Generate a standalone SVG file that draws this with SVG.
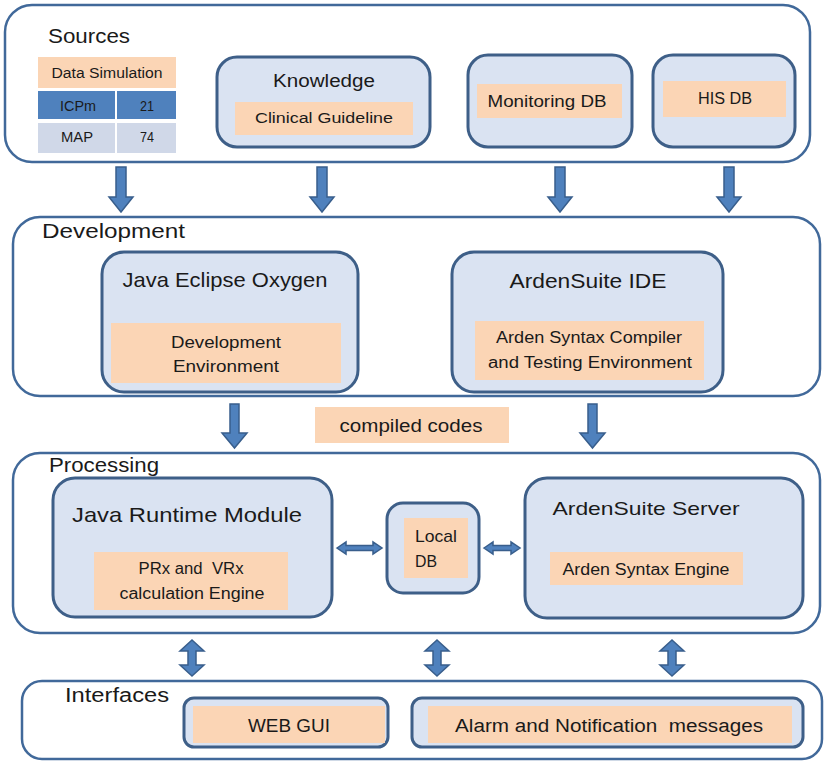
<svg xmlns="http://www.w3.org/2000/svg" width="825" height="762" viewBox="0 0 825 762">
<style>
.outer{fill:#fff;stroke:#41699A;stroke-width:2.5}
.node{fill:#DAE3F2;stroke:#3E5F88;stroke-width:3}
.peach{fill:#FBD5B5}
.t{font-family:"Liberation Sans",Arial,sans-serif;fill:#1a1a1a;text-anchor:middle}
.l{font-family:"Liberation Sans",Arial,sans-serif;fill:#1a1a1a}
.arr{fill:#4F81BD;stroke:#385E8C;stroke-width:1.5;stroke-linejoin:miter}
</style>
<rect width="825" height="762" fill="#fff"/>

<g id="sources">
<rect class="outer" x="5" y="5" width="805" height="157" rx="27"/>
<text class="l" x="48" y="43" font-size="21" textLength="82" lengthAdjust="spacingAndGlyphs">Sources</text>
</g>
<g id="data-simulation">
<rect class="peach" x="38" y="57" width="138" height="31"/>
<text class="t" x="107" y="78" font-size="14" textLength="111" lengthAdjust="spacingAndGlyphs">Data Simulation</text>
<rect x="38" y="91" width="77" height="28" fill="#4F81BD"/>
<rect x="117" y="91" width="59" height="28" fill="#4F81BD"/>
<rect x="38" y="123" width="77" height="30" fill="#D0D8E8"/>
<rect x="117" y="123" width="59" height="30" fill="#D0D8E8"/>
<text class="t" x="78" y="111" font-size="14" textLength="36" lengthAdjust="spacingAndGlyphs">ICPm</text>
<text class="t" x="147" y="111" font-size="14" textLength="14" lengthAdjust="spacingAndGlyphs">21</text>
<text class="t" x="77" y="142" font-size="14" textLength="32" lengthAdjust="spacingAndGlyphs">MAP</text>
<text class="t" x="147" y="142" font-size="14" textLength="14" lengthAdjust="spacingAndGlyphs">74</text>
</g>
<g id="knowledge">
<rect class="node" x="217" y="57" width="213" height="90" rx="20"/>
<text class="t" x="324" y="87" font-size="17.5" textLength="102" lengthAdjust="spacingAndGlyphs">Knowledge</text>
<rect class="peach" x="235" y="102" width="178" height="33"/>
<text class="t" x="324" y="123" font-size="15.5" textLength="138" lengthAdjust="spacingAndGlyphs">Clinical Guideline</text>
</g>
<g id="monitoring-db">
<rect class="node" x="468" y="55" width="164" height="92" rx="20"/>
<rect class="peach" x="477" y="84" width="145" height="34"/>
<text class="t" x="547" y="107" font-size="16" textLength="119" lengthAdjust="spacingAndGlyphs">Monitoring DB</text>
</g>
<g id="his-db">
<rect class="node" x="653" y="55" width="142" height="92" rx="20"/>
<rect class="peach" x="663" y="81" width="123" height="36"/>
<text class="t" x="725" y="104" font-size="16" textLength="54" lengthAdjust="spacingAndGlyphs">HIS DB</text>
</g>

<g id="development">
<rect class="outer" x="13" y="217" width="807" height="179" rx="27"/>
<text class="l" x="42" y="238" font-size="20" textLength="143" lengthAdjust="spacingAndGlyphs">Development</text>
</g>
<g id="java-eclipse">
<rect class="node" x="102" y="252" width="256" height="140" rx="22"/>
<text class="t" x="225" y="287" font-size="21" textLength="205" lengthAdjust="spacingAndGlyphs">Java Eclipse Oxygen</text>
<rect class="peach" x="111" y="323" width="230" height="60"/>
<text class="t" x="226" y="348" font-size="16" textLength="110" lengthAdjust="spacingAndGlyphs">Development</text>
<text class="t" x="226" y="372" font-size="16" textLength="106" lengthAdjust="spacingAndGlyphs">Environment</text>
</g>
<g id="ardensuite-ide">
<rect class="node" x="452" y="252" width="271" height="140" rx="22"/>
<text class="t" x="588" y="288" font-size="21" textLength="157" lengthAdjust="spacingAndGlyphs">ArdenSuite IDE</text>
<rect class="peach" x="475" y="321" width="229" height="59"/>
<text class="t" x="589" y="343" font-size="16" textLength="186" lengthAdjust="spacingAndGlyphs">Arden Syntax Compiler</text>
<text class="t" x="590" y="368" font-size="16" textLength="204" lengthAdjust="spacingAndGlyphs">and Testing Environment</text>
</g>
<g id="compiled-codes">
<rect class="peach" x="315" y="407" width="194" height="36"/>
<text class="t" x="411" y="432" font-size="17.5" textLength="143" lengthAdjust="spacingAndGlyphs">compiled codes</text>
</g>

<g id="processing">
<rect class="outer" x="13" y="453" width="807" height="180" rx="27"/>
<text class="l" x="49" y="472" font-size="20" textLength="110" lengthAdjust="spacingAndGlyphs">Processing</text>
</g>
<g id="java-runtime">
<rect class="node" x="53" y="478" width="279" height="139" rx="22"/>
<text class="t" x="187" y="522" font-size="21" textLength="230" lengthAdjust="spacingAndGlyphs">Java Runtime Module</text>
<rect class="peach" x="94" y="552" width="194" height="58"/>
<text class="t" x="191" y="574" font-size="16" textLength="105" lengthAdjust="spacingAndGlyphs" xml:space="preserve">PRx and  VRx</text>
<text class="t" x="192" y="599" font-size="16" textLength="145" lengthAdjust="spacingAndGlyphs">calculation Engine</text>
</g>
<g id="local-db">
<rect class="node" x="387" y="503" width="92" height="90" rx="16"/>
<rect class="peach" x="404" y="518" width="64" height="60"/>
<text class="l" x="415" y="542" font-size="17" textLength="42" lengthAdjust="spacingAndGlyphs">Local</text>
<text class="l" x="415" y="567" font-size="17" textLength="22" lengthAdjust="spacingAndGlyphs">DB</text>
</g>
<g id="ardensuite-server">
<rect class="node" x="525" y="478" width="278" height="140" rx="22"/>
<text class="t" x="646" y="515" font-size="19" textLength="187" lengthAdjust="spacingAndGlyphs">ArdenSuite Server</text>
<rect class="peach" x="550" y="552" width="193" height="33"/>
<text class="t" x="646" y="575" font-size="16" textLength="167" lengthAdjust="spacingAndGlyphs">Arden Syntax Engine</text>
</g>

<g id="interfaces">
<rect class="outer" x="22" y="681" width="800" height="78" rx="20"/>
<text class="l" x="65" y="702" font-size="20" textLength="104" lengthAdjust="spacingAndGlyphs">Interfaces</text>
</g>
<g id="web-gui">
<rect class="node" x="184" y="698" width="204" height="49" rx="10"/>
<rect class="peach" x="193" y="706" width="192" height="37"/>
<text class="t" x="289" y="732" font-size="18" textLength="82" lengthAdjust="spacingAndGlyphs">WEB GUI</text>
</g>
<g id="alarm">
<rect class="node" x="412" y="698" width="391" height="49" rx="10"/>
<rect class="peach" x="428" y="706" width="364" height="37"/>
<text class="t" x="609" y="732" font-size="18" textLength="308" lengthAdjust="spacingAndGlyphs" xml:space="preserve">Alarm and Notification  messages</text>
</g>

<g id="connectors">
<polygon class="arr" points="116,167 126,167 126,197 133,197 121,212 109,197 116,197"/>
<polygon class="arr" points="317,167 327,167 327,197 334,197 322,212 310,197 317,197"/>
<polygon class="arr" points="555,167 565,167 565,197 572,197 560,212 548,197 555,197"/>
<polygon class="arr" points="724,167 734,167 734,197 741,197 729,212 717,197 724,197"/>
<polygon class="arr" points="230,404 239,404 239,433 247,433 234.5,448 222,433 230,433"/>
<polygon class="arr" points="588,404 597,404 597,433 605,433 592.5,448 580,433 588,433"/>
<polygon class="arr" points="337,548 346,542 346,545.5 373,545.5 373,542 382,548 373,554 373,550.5 346,550.5 346,554"/>
<polygon class="arr" points="484,548 493,542 493,545.5 511,545.5 511,542 520,548 511,554 511,550.5 493,550.5 493,554"/>
<polygon class="arr" points="192,640 204,651 196,651 196,665 204,665 192,676 180,665 188,665 188,651 180,651"/>
<polygon class="arr" points="437,640 449,651 441,651 441,665 449,665 437,676 425,665 433,665 433,651 425,651"/>
<polygon class="arr" points="672,640 684,651 676,651 676,665 684,665 672,676 660,665 668,665 668,651 660,651"/>
</g>
</svg>
